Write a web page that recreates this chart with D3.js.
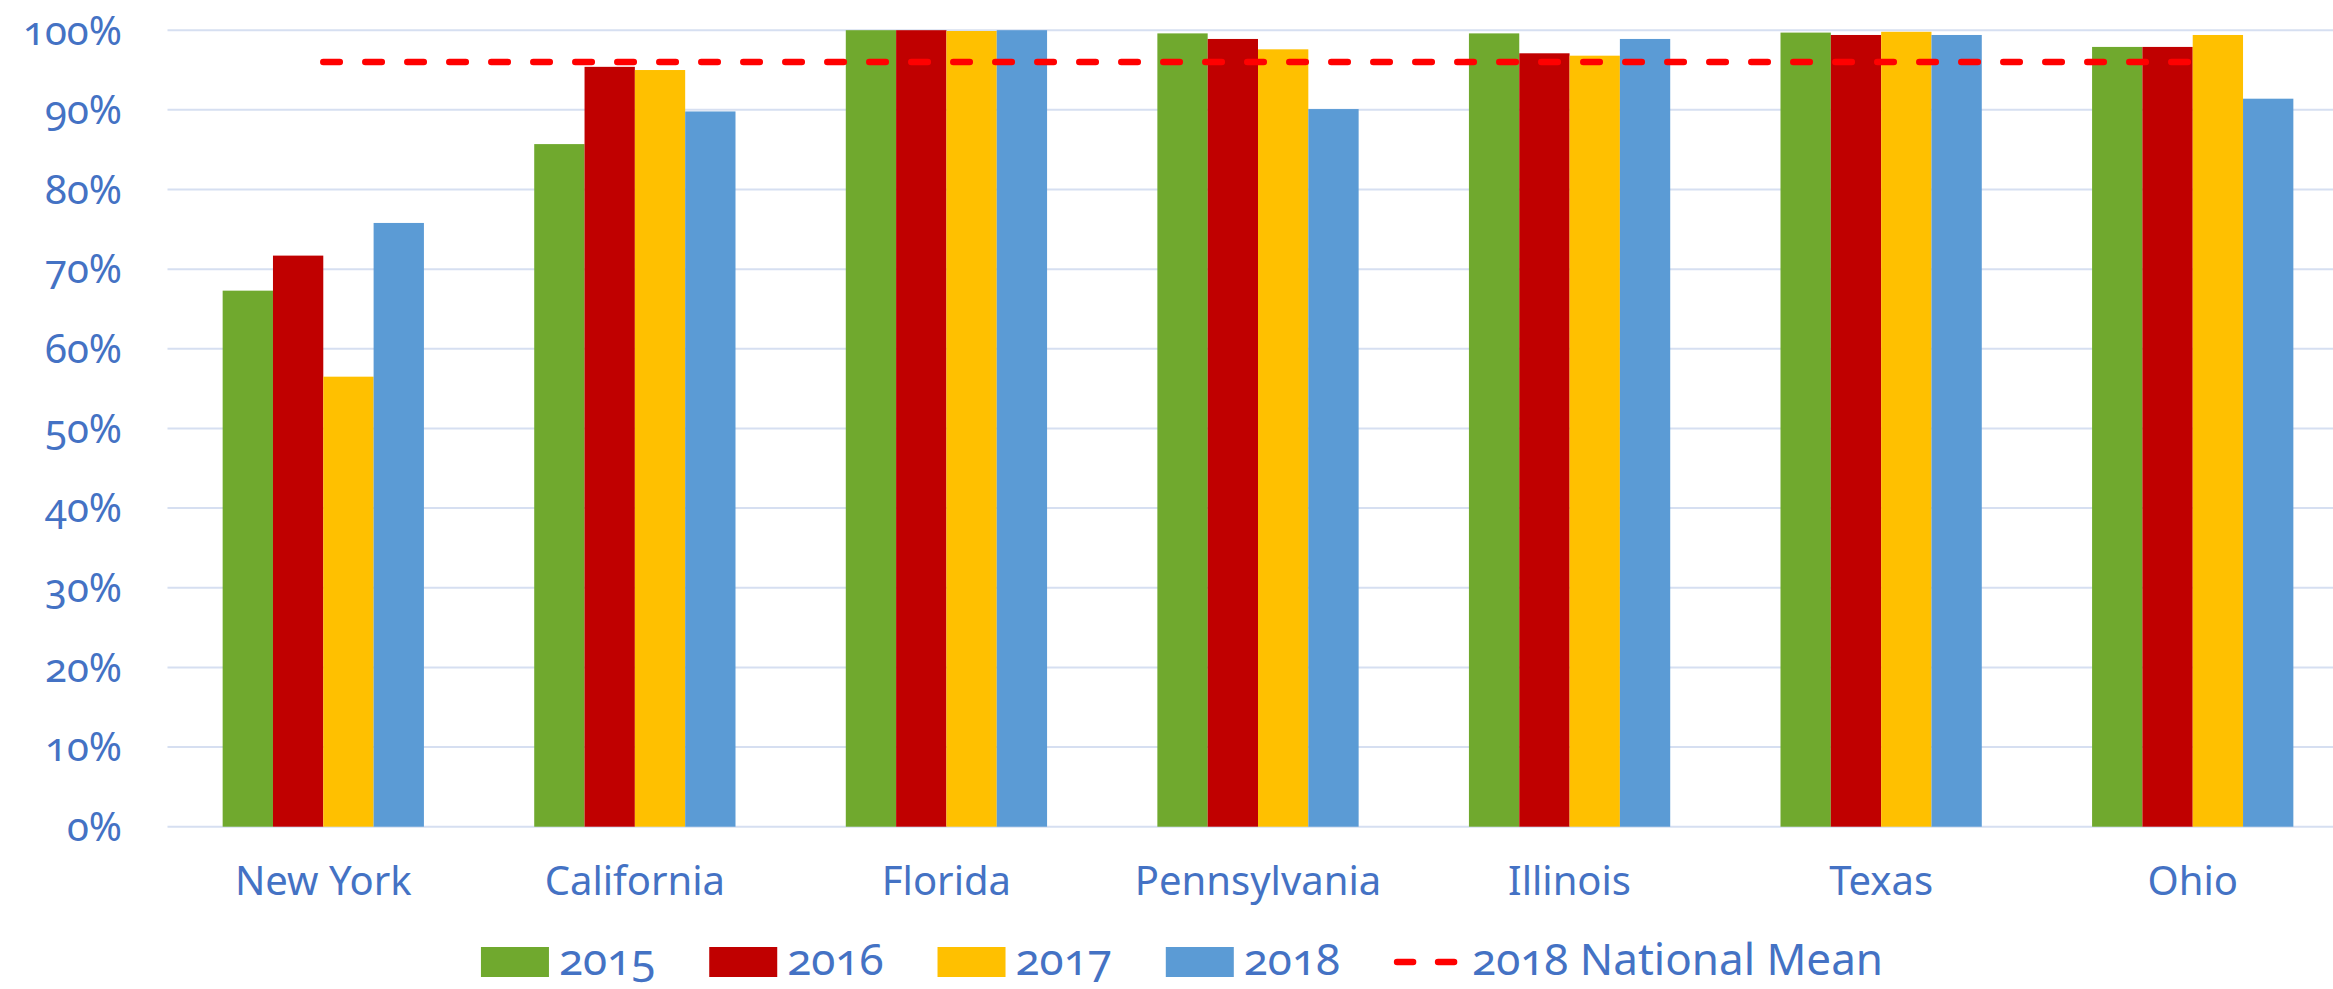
<!DOCTYPE html>
<html>
<head>
<meta charset="utf-8">
<script src="https://cdn.jsdelivr.net/npm/d3@7"></script>
<style>
  body { margin: 0; background: #fff; }
  svg text {
    font-family: "Noto Sans", "Open Sans", sans-serif;
    font-variant-numeric: oldstyle-nums;
    font-feature-settings: "onum" 1;
    fill: #4472C4;
  }
</style>
</head>
<body>
<svg id="chart"></svg>
<script>
// chart data
const categories = ["New York", "California", "Florida", "Pennsylvania", "Illinois", "Texas", "Ohio"];
const years = ["2015", "2016", "2017", "2018"];
const v2015 = [67.3, 85.7, 100, 99.6, 99.6, 99.7, 97.9];
const v2016 = [71.7, 95.4, 100, 98.9, 97.1, 99.4, 97.9];
const v2017 = [56.5, 95.0, 99.9, 97.6, 96.8, 99.8, 99.4];
const v2018 = [75.8, 89.8, 100, 90.1, 98.9, 99.4, 91.4];
const nationalMean = [96, 96, 96, 96, 96, 96, 96];
const meanLabel = "2018 National Mean";
const yTicks = [0, 10, 20, 30, 40, 50, 60, 70, 80, 90, 100];

const seriesValues = [v2015, v2016, v2017, v2018];
const colors = ["#70A92E", "#C00000", "#FFC000", "#5B9BD5"];

const width = 2333, height = 989;
const svg = d3.select("#chart")
    .attr("width", width)
    .attr("height", height);

const x = d3.scaleBand()
    .domain(categories)
    .range([167.5, 2348.5])
    .paddingInner(0.354)
    .paddingOuter(0.177);

const xYear = d3.scaleBand()
    .domain(years)
    .range([0, x.bandwidth()]);

const y = d3.scaleLinear()
    .domain([0, 100])
    .range([826.7, 30.2]);

// gridlines
svg.append("g")
    .selectAll("line")
    .data(yTicks)
    .join("line")
    .attr("x1", 167.5)
    .attr("x2", 2348.5)
    .attr("y1", d => y(d))
    .attr("y2", d => y(d))
    .attr("stroke", "#D6DFF1")
    .attr("stroke-width", 2);

// y tick labels
svg.append("g")
    .selectAll("text")
    .data(yTicks)
    .join("text")
    .attr("x", 122)
    .attr("y", d => y(d) + 14.3)
    .attr("text-anchor", "end")
    .attr("font-size", 40)
    .text(d => d + "%");

// bars
const rows = [];
categories.forEach((c, i) => {
    years.forEach((yr, j) => {
        rows.push({ cat: c, year: yr, value: seriesValues[j][i], color: colors[j] });
    });
});

svg.append("g")
    .selectAll("rect")
    .data(rows)
    .join("rect")
    .attr("x", d => x(d.cat) + xYear(d.year))
    .attr("y", d => y(d.value))
    .attr("width", xYear.bandwidth())
    .attr("height", d => y(0) - y(d.value))
    .attr("fill", d => d.color);

// national mean line
const line = d3.line()
    .x((d, i) => x(categories[i]) + x.bandwidth() / 2)
    .y(d => y(d));

svg.append("path")
    .datum(nationalMean)
    .attr("d", line)
    .attr("fill", "none")
    .attr("stroke", "#FF0000")
    .attr("stroke-width", 6.5)
    .attr("stroke-linecap", "round")
    .attr("stroke-dasharray", "16.5 25.5");

// category labels
svg.append("g")
    .selectAll("text")
    .data(categories)
    .join("text")
    .attr("x", d => x(d) + x.bandwidth() / 2)
    .attr("y", 895)
    .attr("text-anchor", "middle")
    .attr("font-size", 40)
    .text(d => d);

// legend
const legendItems = years.map((yr, j) => ({ label: yr, color: colors[j], type: "rect" }))
    .concat([{ label: meanLabel, color: "#FF0000", type: "line" }]);

const legend = svg.append("g");
const baseline = 975;
const items = legend.selectAll("g")
    .data(legendItems)
    .join("g");

items.each(function(d) {
    const g = d3.select(this);
    if (d.type === "rect") {
        g.append("rect")
            .attr("x", 0)
            .attr("y", baseline - 28)
            .attr("width", 68)
            .attr("height", 30)
            .attr("fill", d.color);
    } else {
        g.append("path")
            .attr("d", `M3,${baseline - 13}H60`)
            .attr("stroke", d.color)
            .attr("stroke-width", 6.5)
            .attr("stroke-linecap", "round")
            .attr("stroke-dasharray", "16 25");
    }
    d.textX = 78;
    const t = g.append("text")
        .attr("x", d.textX)
        .attr("y", baseline)
        .attr("font-size", 44)
        .text(d.label);
    d.w = d.textX + t.node().getComputedTextLength();
});

const gap = 54;
const total = d3.sum(legendItems, d => d.w) + gap * (legendItems.length - 1);
let cursor = 1182 - total / 2;
items.attr("transform", d => {
    const tx = cursor;
    cursor += d.w + gap;
    return `translate(${tx},0)`;
});
</script>
</body>
</html>
